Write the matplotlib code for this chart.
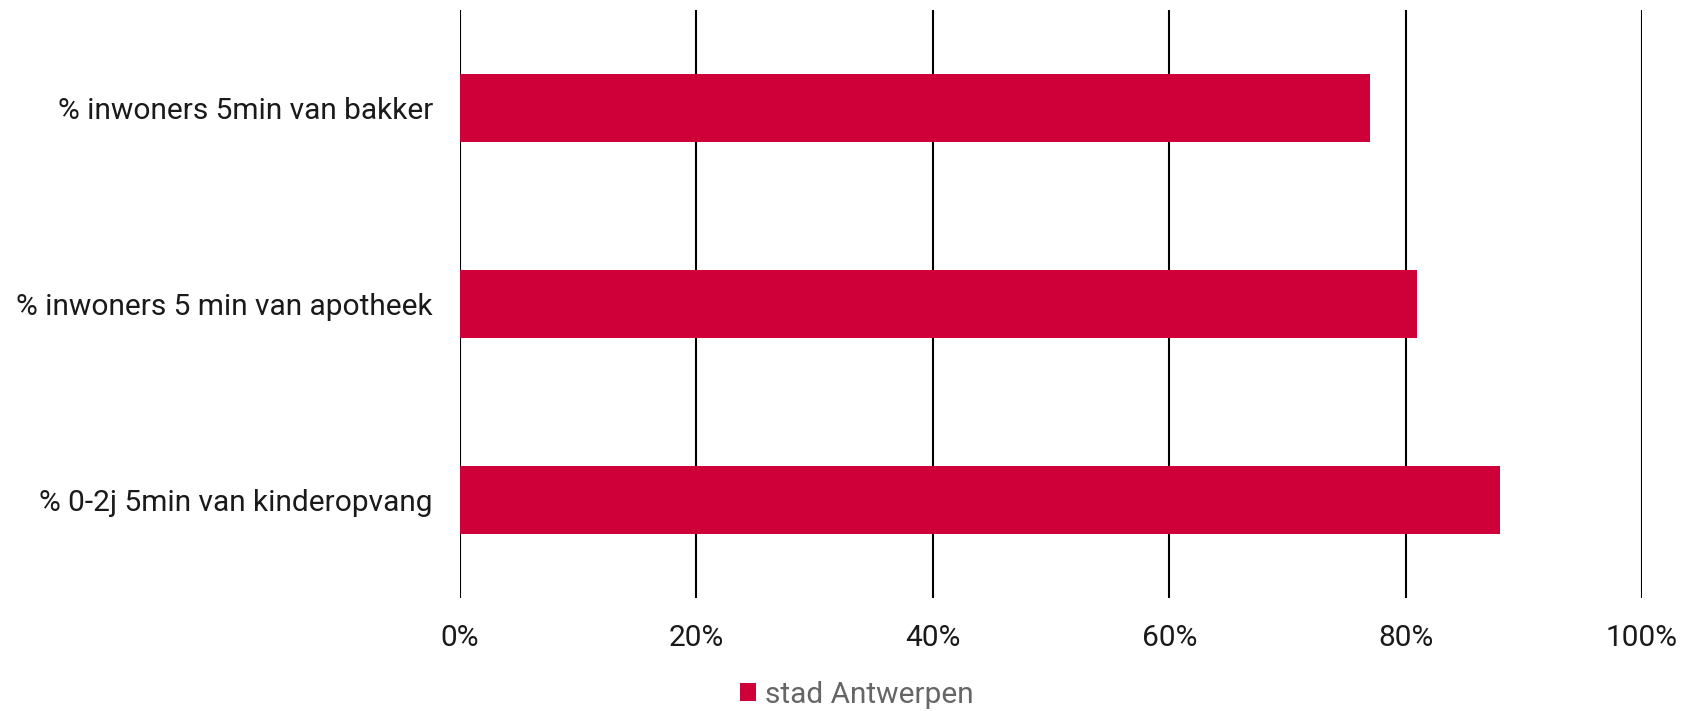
import matplotlib.pyplot as plt
from matplotlib.ticker import FuncFormatter

# --- data ---
categories = ['% inwoners 5min van bakker',
              '% inwoners 5 min van apotheek',
              '% 0-2j 5min van kinderopvang']
values = [0.77, 0.81, 0.88]
series_name = 'stad Antwerpen'
xticks = [0.0, 0.2, 0.4, 0.6, 0.8, 1.0]

bar_color = '#CF0039'

plt.rcParams['font.family'] = ['Roboto', 'DejaVu Sans']

fig = plt.figure(figsize=(17.08, 7.11), dpi=100)
# axes box in pixels: x 460..1642, y 10..598 (from top)
W, H = 1708, 711
ax = fig.add_axes([460 / W, 1 - 598 / H, (1642 - 460) / W, (598 - 10) / H])

ypos = list(range(len(categories)))
ax.barh(ypos, values, height=0.352, color=bar_color, label=series_name, zorder=3)

ax.set_xlim(0, 1)
ax.set_ylim(len(categories) - 0.5, -0.5)
ax.set_yticks(ypos)
ax.set_yticklabels(categories, fontsize=21.5, color='#1a1a1a')
ax.set_xticks(xticks)
ax.xaxis.set_major_formatter(FuncFormatter(lambda v, _: f'{v*100:.0f}%'))
ax.tick_params(axis='x', length=0, pad=19, labelsize=21.5, labelcolor='#1a1a1a')
ax.tick_params(axis='y', length=0, pad=19.5)

for s in ax.spines.values():
    s.set_visible(False)
ax.grid(axis='x', color='black', linewidth=1.5, zorder=0)
ax.grid(axis='y', visible=False)

leg = fig.legend(loc='center', bbox_to_anchor=(857 / W, 1 - 695 / H), frameon=False,
                 fontsize=21.5, handlelength=0.55, handleheight=0.55, handletextpad=0.3,
                 borderaxespad=0, labelcolor='#666666')

fig.savefig('out.png', dpi=100)
